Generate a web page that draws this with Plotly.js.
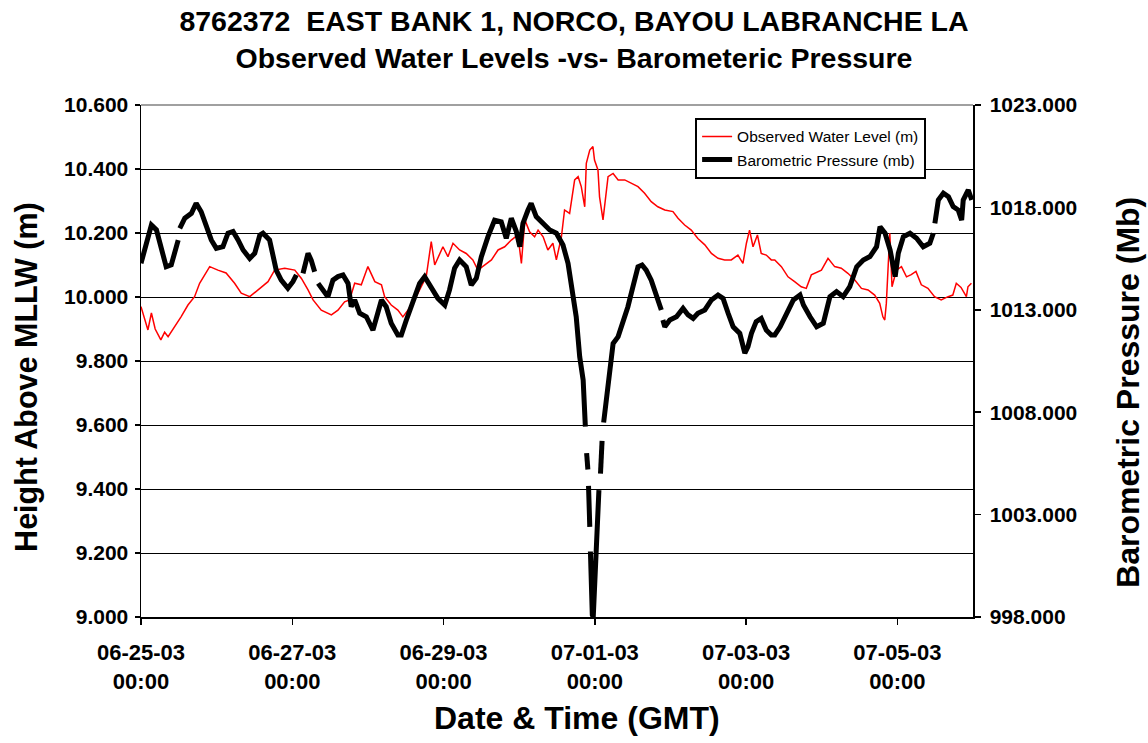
<!DOCTYPE html>
<html>
<head>
<meta charset="utf-8">
<script src="https://cdn.plot.ly/plotly-3.0.1.min.js"></script>
<style>html,body{margin:0;padding:0;background:#fff;}#chart{width:1148px;height:743px;}</style>
</head>
<body>
<div id="chart"></div>
<script>
// Hours after 06-25-03 00:00 GMT
const wlHours = [0,2.2,3.3,4.5,6.3,7.5,8.6,10.7,12.7,14.9,17.0,18.6,21.8,24.4,27.0,29.7,31.8,34.5,37.1,40.3,42.4,45.6,48.8,50.9,53.0,54.6,57.2,60.4,62.5,64.6,66.2,67.8,69.9,72.0,74.2,76.3,77.3,79.4,81.5,83.1,84.7,86.8,88.4,90.5,92.1,93.2,95.8,97.4,99.0,101.1,103.2,105.3,106.9,109.1,111.2,113.3,115.4,117.5,119.6,120.7,121.8,123.3,124.9,126.0,127.6,129.1,130.7,131.8,133.4,134.4,136.0,137.6,138.7,139.7,140.8,141.3,142.4,143.4,143.9,145.0,145.5,146.6,147.6,148.2,149.8,151.4,153.5,155.6,157.7,159.8,161.9,164.0,166.2,168.8,170.4,172.5,174.6,176.7,178.9,181.0,183.1,185.2,187.3,189.4,191.0,192.1,193.1,194.2,195.6,196.8,198.4,200.0,201.1,203.2,205.3,207.4,209.5,211.1,212.2,212.7,215.9,218.0,220.1,222.2,224.3,226.5,228.6,230.7,232.8,234.4,235.4,236.0,236.5,237.6,238.3,239.7,241.3,242.9,244.4,245.9,247.6,249.7,251.8,253.9,256.1,257.6,258.7,260.2,261.9,262.4,263.5];
const wlMeters = [9.970,9.897,9.950,9.900,9.866,9.890,9.876,9.907,9.938,9.975,10.001,10.043,10.095,10.084,10.075,10.043,10.012,10.001,10.022,10.048,10.084,10.090,10.084,10.058,10.022,9.991,9.959,9.944,9.959,9.985,9.991,10.043,10.038,10.095,10.048,10.038,10.001,9.975,9.959,9.938,9.959,9.991,10.022,10.063,10.173,10.100,10.157,10.126,10.168,10.147,10.136,10.116,10.084,10.100,10.116,10.147,10.157,10.178,10.194,10.105,10.241,10.204,10.188,10.209,10.188,10.147,10.168,10.116,10.188,10.272,10.261,10.366,10.376,10.345,10.282,10.418,10.459,10.470,10.428,10.397,10.313,10.241,10.334,10.376,10.386,10.366,10.366,10.355,10.345,10.324,10.298,10.282,10.272,10.267,10.246,10.225,10.209,10.183,10.163,10.136,10.121,10.116,10.116,10.131,10.105,10.168,10.209,10.157,10.194,10.136,10.131,10.116,10.116,10.095,10.063,10.048,10.032,10.027,10.053,10.069,10.084,10.121,10.095,10.090,10.074,10.053,10.027,10.022,10.006,9.980,9.938,9.928,9.980,10.199,10.032,10.084,10.095,10.063,10.070,10.080,10.038,10.027,10.001,9.991,10.001,10.006,10.043,10.030,10.001,10.032,10.043];

const bpHours = [0,2.2,3.3,4.9,6.4,8.0,9.6,11.2,11.8,12.0,12.3,13.9,16.0,17.5,19.1,20.7,22.3,23.9,26.0,27.6,29.2,30.8,32.4,34.5,36.1,37.7,38.7,40.8,41.9,42.9,44.5,46.6,48.2,49.3,49.8,50.4,50.9,51.4,53.0,54.0,55.1,55.6,56.2,57.8,59.3,60.9,62.5,64.1,65.7,66.7,67.8,69.4,71.5,73.6,75.2,76.3,77.8,79.4,81.5,82.6,84.2,86.3,88.4,90.0,92.1,94.2,96.4,97.9,99.5,101.1,103.2,104.8,106.4,108.0,110.1,112.2,114.3,115.9,117.5,119.1,120.2,121.2,122.8,123.8,125.4,127.6,129.7,131.8,133.4,133.9,135.5,137.1,138.1,139.2,140.3,141.0,141.2,141.4,141.8,141.9,142.0,142.4,142.5,142.6,142.8,143.2,143.5,144.3,145.0,145.3,145.5,145.8,146.3,146.5,146.8,147.8,148.3,149.8,151.4,152.9,154.5,156.1,157.7,159.0,160.3,161.9,163.5,165.1,165.4,165.6,166.2,167.8,169.9,172.0,173.6,175.2,176.7,178.9,181.0,183.1,184.7,186.3,187.9,190.0,191.6,192.6,193.7,195.2,196.8,198.4,200.0,201.1,202.8,204.9,207.0,209.1,210.2,212.3,214.4,216.5,218.6,220.7,222.8,224.9,227.1,229.2,231.3,233.4,234.5,236.1,237.7,238.7,239.3,240.3,241.9,244.0,246.1,248.2,250.3,251.4,251.6,251.9,253.0,254.6,256.2,257.7,259.3,260.4,260.9,262.5,263.6];
const bpMb = [1015.27,1016.41,1017.14,1016.90,1015.92,1015.10,1015.19,1016.08,1016.40,null,1016.98,1017.47,1017.71,1018.20,1017.79,1017.06,1016.41,1016.00,1016.08,1016.74,1016.82,1016.41,1015.92,1015.51,1015.76,1016.65,1016.74,1016.41,1015.76,1014.94,1014.45,1014.05,1014.37,1014.70,null,1013.97,null,1014.78,1015.76,1015.43,1014.86,null,1014.29,1013.97,1013.64,1014.45,1014.62,1014.70,1014.29,1013.15,1013.48,1012.83,1012.66,1012.01,1012.83,1013.48,1013.15,1012.34,1011.77,1011.77,1012.50,1013.48,1014.29,1014.62,1014.13,1013.56,1013.23,1013.97,1015.03,1015.43,1015.10,1014.21,1014.54,1015.59,1016.57,1017.38,1017.30,1016.49,1017.47,1016.82,1016.08,1017.22,1017.87,1018.20,1017.55,1017.22,1016.90,1016.74,1016.25,1016.16,1015.27,1013.81,1012.66,1010.71,1009.57,1007.30,null,1006.00,1005.20,null,1004.40,1002.40,null,1001.20,999.50,998.10,998.00,1000.50,1002.40,1004.20,null,1005.00,1006.60,null,1007.50,1008.90,1009.60,1011.36,1011.69,1012.34,1013.15,1014.13,1015.10,1015.19,1014.94,1014.45,1013.64,1012.99,null,1012.50,1012.17,1012.50,1012.66,1013.07,1012.75,1012.58,1012.83,1012.99,1013.48,1013.72,1013.56,1012.83,1012.17,1011.85,1010.88,1011.20,1011.85,1012.42,1012.58,1012.01,1011.77,1011.77,1012.17,1012.83,1013.48,1013.72,1013.23,1012.66,1012.17,1012.34,1013.64,1013.89,1013.64,1014.13,1015.10,1015.43,1015.60,1016.08,1017.06,1016.74,1015.92,1015.10,1014.62,1015.76,1016.57,1016.74,1016.49,1016.08,1016.25,1016.74,null,1017.22,1018.36,1018.69,1018.52,1018.04,1017.87,1017.38,1018.36,1018.85,1018.36];

const xTickHours = [0,48,96,144,192,240];
const xTickLabels = ["06-25-03<br>00:00","06-27-03<br>00:00","06-29-03<br>00:00","07-01-03<br>00:00","07-03-03<br>00:00","07-05-03<br>00:00"];

const start = Date.UTC(2003,5,25,0,0,0);
function toDate(h){ return new Date(start + h*3600000).toISOString().replace('T',' ').slice(0,19); }

const F = 'Arial, "Liberation Sans", sans-serif';

const traces = [
  {x: bpHours.map(toDate), y: bpMb, yaxis:'y2', type:'scatter', mode:'lines',
   name:'Barometric Pressure (mb)', line:{color:'#000000', width:5}, connectgaps:false, legendrank:2},
  {x: wlHours.map(toDate), y: wlMeters, type:'scatter', mode:'lines',
   name:'Observed Water Level (m)', line:{color:'#ff0000', width:1.5}, legendrank:1}
];

const layout = {
  width:1148, height:743,
  margin:{l:141, r:175, t:105, b:126},
  paper_bgcolor:'#ffffff', plot_bgcolor:'#ffffff',
  font:{family:F, color:'#000000'},
  title:{text:'8762372  EAST BANK 1, NORCO, BAYOU LABRANCHE LA<br>Observed Water Levels -vs- Barometeric Pressure',
         font:{family:F, size:28.5, weight:700, color:'#000'}, x:0.5, xanchor:'center', y:0.958, yanchor:'top'},
  xaxis:{type:'date', range:[toDate(0), toDate(264)], tickmode:'array',
         tickvals:xTickHours.map(toDate), ticktext:xTickLabels,
         tickfont:{family:F, size:22, weight:700}, ticks:'outside', ticklen:6, tickwidth:1.5, tickcolor:'#000',
         ticklabelstandoff:9,
         showline:true, linecolor:'#000', linewidth:1.5, showgrid:false, zeroline:false},
  yaxis:{range:[9,10.6], dtick:0.2, tick0:9, tickformat:'.3f',
         tickfont:{family:F, size:21, weight:700}, ticks:'outside', ticklen:5, tickwidth:1.5, tickcolor:'#000',
         ticklabelstandoff:2,
         showline:true, linecolor:'#000', linewidth:1.5, showgrid:true, gridcolor:'#000', gridwidth:1, zeroline:false},
  yaxis2:{range:[998,1023], dtick:5, tick0:998, tickformat:'.3f', overlaying:'y', side:'right',
         tickfont:{family:F, size:21, weight:700}, ticks:'outside', ticklen:6, tickwidth:1.5, tickcolor:'#000',
         ticklabelstandoff:5,
         showline:true, linecolor:'#000', linewidth:1.5, showgrid:false, zeroline:false},
  legend:{x:0.666, y:0.975, xanchor:'left', yanchor:'top', bgcolor:'#ffffff', bordercolor:'#000', borderwidth:2,
          font:{family:F, size:15.5, color:'#000'}, traceorder:'normal', tracegroupgap:0},
  shapes:[{type:'line', xref:'paper', yref:'paper', x0:0, x1:1, y0:1, y1:1, line:{color:'#808080', width:1.5}}],
  annotations:[
    {text:'Height Above MLLW (m)', xref:'paper', yref:'paper', x:-0.137, y:0.469, xanchor:'center', yanchor:'middle',
     textangle:-90, showarrow:false, font:{family:F, size:30.5, weight:700, color:'#000'}},
    {text:'Barometric Pressure (Mb)', xref:'paper', yref:'paper', x:1.186, y:0.439, xanchor:'center', yanchor:'middle',
     textangle:-90, showarrow:false, font:{family:F, size:32, weight:700, color:'#000'}},
    {text:'Date & Time (GMT)', xref:'paper', yref:'paper', x:0.524, y:-0.197, xanchor:'center', yanchor:'middle',
     showarrow:false, font:{family:F, size:32, weight:700, color:'#000'}}
  ],
  showlegend:true
};

Plotly.newPlot('chart', traces, layout, {displayModeBar:false, staticPlot:true});
</script>
</body>
</html>
